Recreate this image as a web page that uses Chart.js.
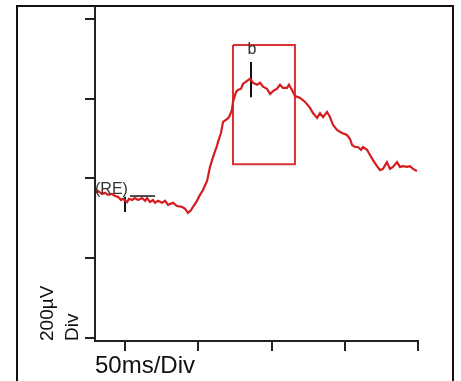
<!DOCTYPE html>
<html>
<head>
<meta charset="utf-8">
<script src="https://cdn.jsdelivr.net/npm/chart.js@4"></script>
<style>
  html, body { margin: 0; padding: 0; background: #fff; }
  #wrap { position: relative; width: 461px; height: 381px; }
</style>
</head>
<body>
<div id="wrap"><canvas id="erp_chart" width="461" height="381"></canvas></div>
<script>
// time (ms) and amplitude (µV)
timeMs = [-19.8, -18.4, -15.7, -13.7, -11.6, -8.9, -6.8, -4.8, -2.7, -1.4, 1.4, 2.7, 4.8, 6.8, 8.9, 11.6,
  13.7, 15.0, 17.1, 19.1, 20.5, 22.5, 25.3, 27.3, 29.4, 32.8, 35.5, 38.9, 41.0, 43.0, 45.1, 46.4,
  49.1, 51.2, 53.2, 56.0, 58.0, 60.1, 62.8, 63.5, 65.5, 66.9, 69.6, 71.0, 73.0, 73.7, 75.8, 77.1,
  79.2, 80.5, 83.3, 85.3, 87.4, 90.1, 92.2, 94.2, 96.9, 99.0, 101.0, 103.8, 105.8, 107.8, 110.6, 111.9,
  114.0, 116.0, 118.1, 119.5, 122.9, 126.3, 128.3, 131.1, 133.1, 135.2, 137.9, 139.9, 142.0, 144.7,
  148.1, 151.5, 153.6, 155.0, 157.0, 159.0, 161.1, 162.5, 165.2, 167.2, 169.3, 172.0, 174.1, 176.1,
  178.8, 180.9, 182.9, 185.7, 187.7, 189.8, 192.5, 194.5, 196.6, 199.3]
amplitudeUv = [364, 369, 361, 364, 359, 361, 356, 354, 346, 349, 341, 349, 346, 351, 346, 351,
  344, 351, 341, 346, 339, 344, 339, 344, 334, 339, 331, 329, 324, 314, 321, 329,
  344, 359, 371, 394, 429, 454, 482, 492, 514, 542, 549, 554, 572, 592, 617, 622,
  625, 637, 645, 650, 640, 635, 640, 630, 625, 612, 619, 625, 635, 627, 627, 635,
  622, 607, 604, 602, 592, 577, 564, 552, 564, 554, 567, 554, 534, 522,
  514, 509, 499, 484, 479, 479, 472, 479, 472, 459, 446, 431, 421, 424,
  441, 424, 429, 441, 429, 431, 429, 431, 424, 419]

xTicks = [0, 50, 100, 150, 200]
yTicks = [0, 200, 400, 600, 800]

// marker for the b peak window and the RE baseline cursor
boxX = [73.7, 116, 116, 73.7, 73.7]
boxY = [735, 735, 436, 436, 735]
peakCursorX = [86, 86]
peakCursorY = [692, 604]
reHorizX = [3.4, 20.5]
reHorizY = [356, 356]
reVertX = [0, 0]
reVertY = [354, 316]
labelText = ['(RE)', 'b']
labelX = [-20.5, 86.7]
labelY = [373, 722]

function pts(xs, ys) {
    return xs.map((x, i) => ({x: x, y: ys[i]}))
}

lineStyle = {pointRadius: 0, tension: 0, fill: false}

data = [
    Object.assign({label: 'trace', data: pts(timeMs, amplitudeUv), borderColor: 'rgb(214, 28, 30)', borderWidth: 2.2}, lineStyle),
    Object.assign({label: 'box', data: pts(boxX, boxY), borderColor: 'rgb(218, 50, 50)', borderWidth: 2}, lineStyle),
    Object.assign({label: 'peak', data: pts(peakCursorX, peakCursorY), borderColor: '#111', borderWidth: 2}, lineStyle),
    Object.assign({label: 're1', data: pts(reHorizX, reHorizY), borderColor: '#111', borderWidth: 1.5}, lineStyle),
    Object.assign({label: 're2', data: pts(reVertX, reVertY), borderColor: '#111', borderWidth: 2}, lineStyle),
]

framePlugin = {
    id: 'frame',
    beforeDraw(chart) {
        const c = chart.ctx
        c.save()
        c.fillStyle = '#fff'
        c.fillRect(0, 0, chart.width, chart.height)
        c.strokeStyle = '#111'
        c.lineWidth = 2
        c.strokeRect(17, 6, 436, 420)
        c.restore()
    },
    afterDatasetsDraw(chart) {
        const c = chart.ctx
        const xs = chart.scales.x, ys = chart.scales.y
        c.save()
        c.fillStyle = '#333'
        c.font = '16px "Liberation Sans", Arial, sans-serif'
        c.textBaseline = 'middle'
        labelText.forEach((t, i) => {
            c.textAlign = i == 0 ? 'left' : 'center'
            c.fillText(t, xs.getPixelForValue(labelX[i]), ys.getPixelForValue(labelY[i]))
        })
        c.restore()
    }
}

axisGrid = {drawOnChartArea: false, drawTicks: true, tickLength: 10, color: '#222', lineWidth: 2}
axisBorder = {display: true, color: '#222', width: 2}

config = {
    type: 'line',
    data: {datasets: data},
    options: {
        responsive: false,
        animation: false,
        layout: {padding: {left: 35.6, right: 43, top: 7, bottom: 0}},
        plugins: {legend: {display: false}, tooltip: {enabled: false}},
        scales: {
            x: {
                type: 'linear',
                min: -20.5,
                max: 200,
                afterBuildTicks: s => { s.ticks = xTicks.map(v => ({value: v})) },
                ticks: {display: false},
                grid: axisGrid,
                border: axisBorder,
                title: {display: true, text: '50ms/Div', align: 'start', color: '#111',
                        font: {size: 24}, padding: {top: 1.2, bottom: 0}}
            },
            y: {
                type: 'linear',
                min: -7.5,
                max: 830,
                afterBuildTicks: s => { s.ticks = yTicks.map(v => ({value: v})) },
                ticks: {display: false},
                grid: axisGrid,
                border: axisBorder,
                title: {display: true, text: ['200µV', 'Div'], align: 'start', color: '#111',
                        font: {size: 19, lineHeight: 1.3}, padding: {top: 0, bottom: 0}}
            }
        }
    },
    plugins: [framePlugin]
}

Chart.defaults.font.family = '"Liberation Sans", Arial, sans-serif'
ctx = document.getElementById('erp_chart')
new Chart(ctx, config)
</script>
</body>
</html>
